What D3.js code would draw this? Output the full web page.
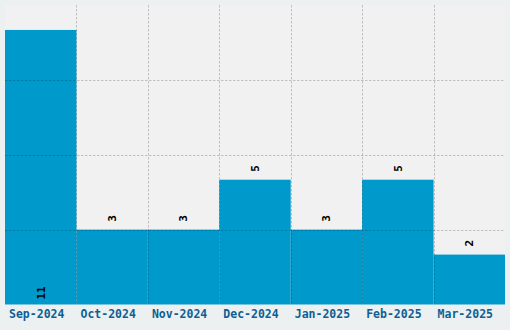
<!DOCTYPE html>
<html>
<head>
<meta charset="utf-8">
<script src="https://cdn.jsdelivr.net/npm/d3@7"></script>
<style>
  body { margin: 0; background: #ecf0f1; }
  svg { display: block; }
  .x-axis text { font-family: "DejaVu Sans Mono", monospace; font-weight: bold; font-size: 11.5px; fill: #0e5f93; }
  .val { font-family: "DejaVu Sans Mono", monospace; font-weight: bold; font-size: 11px; fill: #000; }
  .grid line { stroke: #000; stroke-opacity: 0.2; stroke-dasharray: 2.5,1.5; }
</style>
</head>
<body>
<div id="chart"></div>
<script>
// data
var months = ["Sep-2024", "Oct-2024", "Nov-2024", "Dec-2024", "Jan-2025", "Feb-2025", "Mar-2025"];
var counts = [11, 3, 3, 5, 3, 5, 2];
var yTicks = [3, 6, 9];

var svgWidth = 510;
var svgHeight = 330;

var margin = {top: 5, right: 5, bottom: 25.5, left: 5};
var chartWidth = svgWidth - margin.left - margin.right;
var chartHeight = svgHeight - margin.top - margin.bottom;

var svg = d3.select("#chart")
  .append("svg")
  .attr("width", svgWidth)
  .attr("height", svgHeight);

var chartGroup = svg.append("g").attr("transform", `translate(${margin.left}, ${margin.top})`);

var data = months.map(function(m, i) { return {month: m, count: counts[i]}; });

var xScale = d3.scaleBand().domain(months).range([0, chartWidth]).padding(0);
var yScale = d3.scaleLinear().domain([0, 12]).range([chartHeight, 0]);

// plot background
chartGroup.append("rect")
  .attr("width", chartWidth)
  .attr("height", chartHeight)
  .attr("fill", "#f1f1f1");

// bars
chartGroup.selectAll(".bar")
  .data(data)
  .enter()
  .append("rect")
  .attr("class", "bar")
  .attr("x", d => xScale(d.month))
  .attr("y", d => yScale(d.count))
  .attr("width", xScale.bandwidth())
  .attr("height", d => chartHeight - yScale(d.count))
  .attr("fill", "#0099cc");

// grid on top of bars
var grid = chartGroup.append("g").attr("class", "grid");
grid.selectAll(".hline")
  .data(yTicks)
  .enter()
  .append("line")
  .attr("x1", 0)
  .attr("x2", chartWidth)
  .attr("y1", d => Math.round(yScale(d)) + 0.5)
  .attr("y2", d => Math.round(yScale(d)) + 0.5);

grid.selectAll(".vline")
  .data(months.slice(1))
  .enter()
  .append("line")
  .attr("x1", d => Math.round(xScale(d)) + 0.5)
  .attr("x2", d => Math.round(xScale(d)) + 0.5)
  .attr("y1", 0)
  .attr("y2", chartHeight);

// value labels, rotated; put inside at the base if no room above
chartGroup.selectAll(".val")
  .data(data)
  .enter()
  .append("text")
  .attr("class", "val")
  .attr("transform", function(d) {
    var cx = xScale(d.month) + xScale.bandwidth() / 2;
    var top = yScale(d.count);
    var y = top - 8 < 20 ? chartHeight - 5 : top - 8;
    return `translate(${cx}, ${y}) rotate(-90)`;
  })
  .attr("dy", "0.35em")
  .attr("text-anchor", "start")
  .text(d => d.count);

// x axis
var xAxis = chartGroup.append("g")
  .attr("class", "x-axis")
  .attr("transform", `translate(0, ${chartHeight})`)
  .call(d3.axisBottom(xScale).tickSize(0).tickPadding(5));
xAxis.select(".domain").remove();
xAxis.selectAll("text").attr("x", -4);
</script>
</body>
</html>
